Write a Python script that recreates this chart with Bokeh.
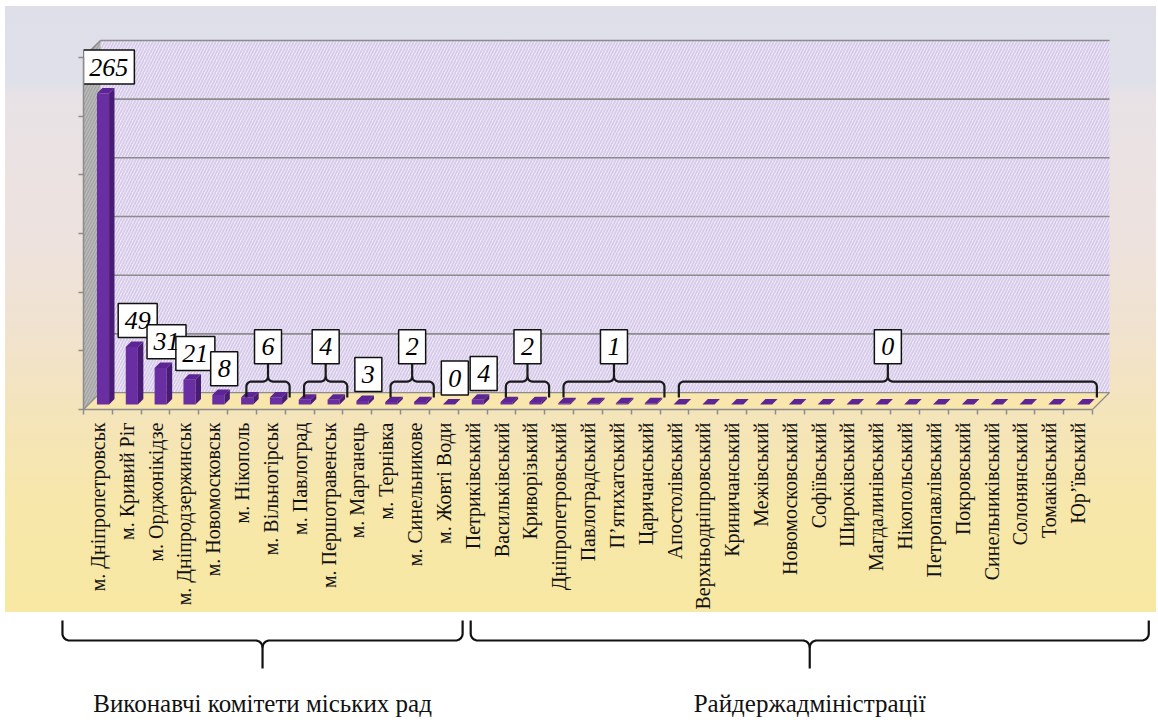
import math
import numpy as np
from bokeh.plotting import figure
from bokeh.models import Range1d, FixedTicker, ColumnDataSource, Label
from bokeh.layouts import column
from bokeh.embed import file_html
from bokeh.resources import INLINE
from bokeh.core.properties import value

# ---------------- data ----------------
categories = [
    "м. Дніпропетровськ", "м. Кривий Ріг", "м. Орджонікідзе", "м. Дніпродзержинськ",
    "м. Новомосковськ", "м. Нікополь", "м. Вільногірськ", "м. Павлоград",
    "м. Першотравенськ", "м. Марганець", "м. Тернівка", "м. Синельникове",
    "м. Жовті Води", "Петриківський", "Васильківський", "Криворізький",
    "Дніпропетровський", "Павлоградський", "П’ятихатський", "Царичанський",
    "Апостолівський", "Верхньодніпровський", "Криничанський", "Межівський",
    "Новомосковський", "Софіївський", "Широківський", "Магдалинівський",
    "Нікопольський", "Петропавлівський", "Покровський", "Синельниківський",
    "Солонянський", "Томаківський", "Юр’ївський",
]
counts = [265, 49, 31, 21, 8, 6, 6, 4, 4, 3, 2, 2, 0, 4, 2, 2, 1, 1, 1, 1,
          0, 0, 0, 0, 0, 0, 0, 0, 0, 0, 0, 0, 0, 0, 0]
# data-label groups (first and last category of each label)
label_start = [0, 1, 2, 3, 4, 5, 7, 9, 10, 12, 13, 14, 16, 20]
label_end = [0, 1, 2, 3, 4, 6, 8, 9, 11, 12, 13, 15, 19, 34]
section_names = ["Виконавчі комітети міських рад", "Райдержадміністрації"]
section_start = [0, 13]
section_end = [12, 34]
y_ticks = [0, 50, 100, 150, 200, 250, 300]

# ---------------- layout constants ----------------
W, H1, H2 = 1156, 612, 108
LEFT, TOP, BOTTOM = 83, 20, 202
n = len(categories)
xpx = 28.83
x_lo = -0.5
frame_w = W - LEFT
frame_h = H1 - TOP - BOTTOM
x_hi = x_lo + frame_w / xpx
y_max = 300
ypx = 353 / y_max
y_hi = frame_h / ypx
DEPTH = 17
DX, DY = DEPTH / xpx, DEPTH / ypx
GRID = "#8c8c8c"
FONT = "Liberation Serif"

bg = ("linear-gradient(90deg, #ffffff 0px, #ffffff 5px, rgba(255,255,255,0) 5px), "
      "linear-gradient(180deg, #ffffff 0px, #ffffff 6px, #dedfe8 6px, #dfe0e9 82px, "
      "#e8e2e6 96px, #ede2de 240px, #f1e2cf 330px, #f4e4bb 410px, #f7e7aa 500px, "
      "#f8e8a3 612px)")

p = figure(width=W, height=H1, x_range=Range1d(x_lo, x_hi), y_range=Range1d(0, y_hi),
           output_backend="svg", toolbar_location=None, title=None,
           min_border_left=LEFT, min_border_right=0, min_border_top=TOP,
           min_border_bottom=BOTTOM, background_fill_alpha=0, border_fill_alpha=0,
           outline_line_color=None, styles={"background": bg})
p.frame_align = False
p.grid.visible = False

# y axis (no labels)
p.yaxis.ticker = FixedTicker(ticks=y_ticks)
p.yaxis.bounds = (0, y_max)
p.yaxis.major_label_text_color = None
p.yaxis.major_tick_out = 5
p.yaxis.major_tick_in = 0
p.yaxis.minor_tick_line_color = None
p.yaxis.axis_line_color = GRID
p.yaxis.major_tick_line_color = GRID
p.yaxis.axis_line_width = 1.5
p.yaxis.major_tick_line_width = 1.5

# x axis with category labels
p.xaxis.ticker = FixedTicker(ticks=list(range(n)), minor_ticks=[i - 0.5 for i in range(n + 1)])
p.xaxis.major_label_overrides = {i: c for i, c in enumerate(categories)}
p.xaxis.major_label_orientation = math.pi / 2
p.xaxis.bounds = (-0.5, n - 0.5)
p.xaxis.major_tick_line_color = None
p.xaxis.major_tick_out = 0
p.xaxis.major_tick_in = 0
p.xaxis.minor_tick_out = 5
p.xaxis.minor_tick_in = 0
p.xaxis.minor_tick_line_color = GRID
p.xaxis.minor_tick_line_width = 1.5
p.xaxis.axis_line_color = GRID
p.xaxis.axis_line_width = 1.5
p.xaxis.major_label_standoff = 8
p.xaxis.major_label_text_font = FONT
p.xaxis.major_label_text_font_size = "20px"
p.xaxis.major_label_text_color = "#111111"

# walls and floor
xl, xr = -0.5, n - 0.5
p.patch([xl, xl, xl + DX, xl + DX], [0, y_max, y_max + DY, DY], fill_color="#a3a3a3",
        hatch_pattern="/", hatch_color="#bababa", hatch_scale=6, hatch_weight=1.5,
        line_color=GRID, line_width=1)
p.quad(left=xl + DX, right=xr + DX, bottom=DY, top=y_max + DY, fill_color="#f1ecf8",
       hatch_pattern="/", hatch_color="#d6c9ea", hatch_scale=6, hatch_weight=1.7,
       line_color=None)
p.patch([xl, xr, xr + DX, xl + DX], [0, 0, DY, DY], fill_color="#f8e6ad",
        line_color=GRID, line_width=1.2)
gl = [t for t in y_ticks if t > 0]
p.segment(x0=[xl + DX] * len(gl), x1=[xr + DX] * len(gl), y0=[t + DY for t in gl],
          y1=[t + DY for t in gl], line_color=GRID, line_width=1.6)
p.segment(x0=[xl], y0=[y_max], x1=[xl + DX], y1=[y_max + DY], line_color=GRID, line_width=1.5)

# 3D bars
v = np.array(counts, dtype=float)
idx = np.arange(n, dtype=float)
F1, F2, HW = 0.3, 0.62, 0.21
l1 = idx - HW + F1 * DX
r1 = idx + HW + F1 * DX
l2 = idx - HW + F2 * DX
r2 = idx + HW + F2 * DX
b1, b2 = F1 * DY, F2 * DY
p.quad(left=l1, right=r1, bottom=b1, top=v + b1, fill_color="#6a2ea3", line_color=None)
p.patches([[a, b, b, a] for a, b in zip(r1, r2)],
          [[b1, b2, t + b2, t + b1] for t in v], fill_color="#481b75", line_color=None)
p.patches([[a, b, c, d] for a, b, c, d in zip(l1, r1, r2, l2)],
          [[t + b1, t + b1, t + b2, t + b2] for t in v], fill_color="#5d2495",
          line_color=None)


def brace(x0, x1, tip, drop, r, rx):
    """brace path in local coords: x in data units, u in px (positive toward tip)."""
    xc = (x0 + x1) / 2
    t = np.linspace(np.pi, np.pi / 2, 8)
    ax, au = x0 + rx + rx * np.cos(t), -r + r * np.sin(t)
    t = np.linspace(-np.pi / 2, 0, 8)
    bx, bu = xc - rx + rx * np.cos(t), r + r * np.sin(t)
    left_x = [x0] + list(ax) + list(bx) + [xc]
    left_u = [-drop] + list(au) + list(bu) + [tip]
    t = np.linspace(np.pi, 1.5 * np.pi, 8)
    cx, cu = xc + rx + rx * np.cos(t), r + r * np.sin(t)
    t = np.linspace(np.pi / 2, 0, 8)
    dx_, du = x1 - rx + rx * np.cos(t), -r + r * np.sin(t)
    right_x = list(cx) + list(dx_) + [x1]
    right_u = list(cu) + list(du) + [-drop]
    return [left_x, right_x], [left_u, right_u]


# data labels
box_x, box_y, box_w, box_t = [], [], [], []
br_xs, br_ys = [], []
BOX_H = 34
for s, e in zip(label_start, label_end):
    val = counts[s]
    txt = str(val)
    if s == e:
        cx = s + 0.38
        bottom = val + (DEPTH * 0.5 + 6) / ypx
    else:
        x0, x1 = s + 0.15, e + 0.65
        cx = (x0 + x1) / 2
        level = 28 / ypx
        bottom = 46 / ypx
        xs, us = brace(x0, x1, 18, 16, 5, 5 / xpx)
        for xx, uu in zip(xs, us):
            br_xs.append(xx)
            br_ys.append([level + u_ / ypx for u_ in uu])
    box_x.append(cx)
    box_y.append(bottom + BOX_H / 2 / ypx)
    box_w.append(15 + 12 * len(txt))
    box_t.append(txt)

p.multi_line(br_xs, br_ys, line_color="#1a1a1a", line_width=2.2)
p.rect(x=box_x, y=box_y, width=box_w, height=BOX_H, width_units="screen",
       height_units="screen", fill_color="white", line_color="#111111", line_width=1.5)
lab_src = ColumnDataSource(dict(x=box_x, y=box_y, text=box_t, font=[FONT] * len(box_t)))
p.text(x="x", y="y", text="text", source=lab_src, text_align="center",
       text_baseline="middle", text_font="font", text_font_style="italic",
       text_font_size="26px", text_color="black")

# ---------------- bottom section braces ----------------
x2_lo = x_lo - LEFT / xpx
p2 = figure(width=W, height=H2, x_range=Range1d(x2_lo, x_hi), y_range=Range1d(0, H2),
            output_backend="svg", toolbar_location=None, title=None,
            x_axis_location=None, y_axis_location=None, min_border=0,
            outline_line_color=None, background_fill_color="white",
            border_fill_color="white")
p2.frame_align = False
p2.grid.visible = False

sec_x0 = [section_start[0] - 0.5 - 0.73, section_start[1] - 0.5 + 0.43]
sec_x1 = [section_end[0] + 0.5 + 0.15, section_end[1] + 0.5 + 1.95]
LEVEL2 = H2 - 28
sx, sy, tx = [], [], []
for a, b in zip(sec_x0, sec_x1):
    xs, us = brace(a, b, 28, 20, 7, 7 / xpx)
    for xx, uu in zip(xs, us):
        sx.append(xx)
        sy.append([LEVEL2 - u_ for u_ in uu])
    tx.append((a + b) / 2)
p2.multi_line(sx, sy, line_color="#111111", line_width=2.2)
for name, xc in zip(section_names, tx):
    p2.add_layout(Label(x=xc, y=H2 - 91, text=name, text_align="center",
                        text_baseline="middle", text_font=FONT, text_font_size="25px",
                        text_color="#111111"))

layout = column(p, p2, spacing=0)
open("out.html", "w").write(file_html(layout, INLINE))
